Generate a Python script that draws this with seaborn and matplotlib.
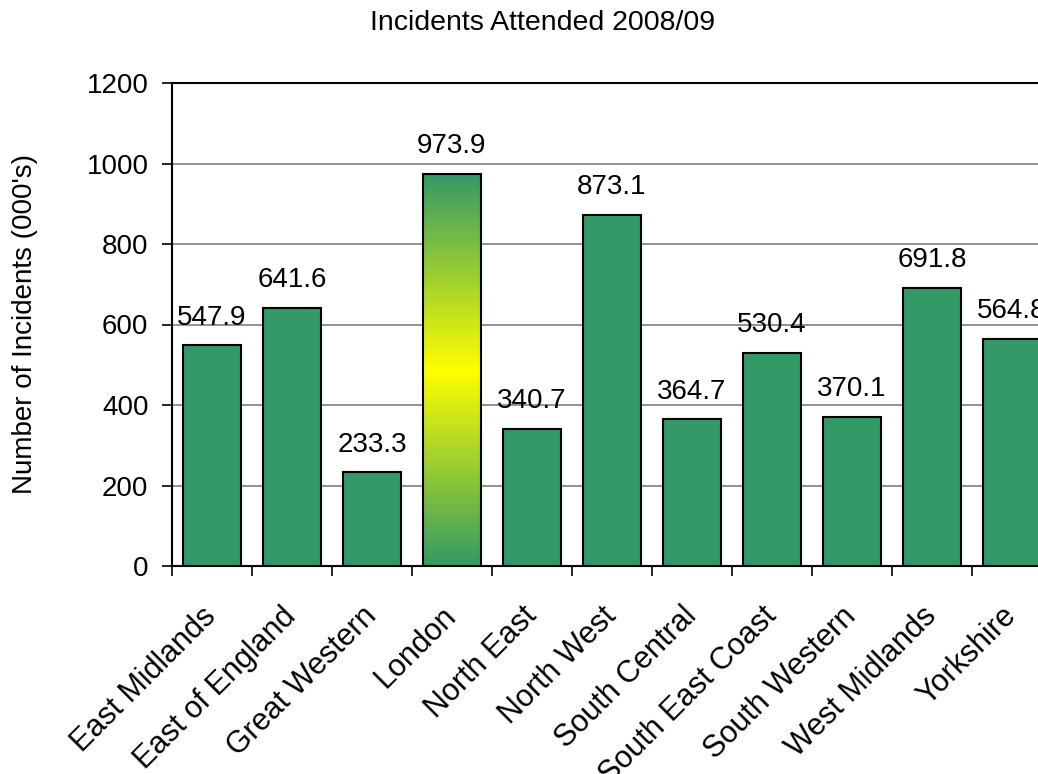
import numpy as np
import seaborn as sns
import matplotlib.pyplot as plt
import matplotlib.transforms as mtransforms
from matplotlib.colors import LinearSegmentedColormap

regions = ["East Midlands", "East of England", "Great Western", "London",
           "North East", "North West", "South Central", "South East Coast",
           "South Western", "West Midlands", "Yorkshire"]
incidents = [547.9, 641.6, 233.3, 973.9, 340.7, 873.1, 364.7, 530.4,
             370.1, 691.8, 564.8]
yticks = [0, 200, 400, 600, 800, 1000, 1200]
highlight = "London"

sns.set_theme(style="white")
plt.rcParams['font.family'] = ['Liberation Sans', 'DejaVu Sans']
plt.rcParams['text.color'] = "black"
plt.rcParams['xtick.color'] = "black"
plt.rcParams['ytick.color'] = "black"
plt.rcParams['axes.labelcolor'] = "black"

fig = plt.figure(figsize=(10.38, 7.74), dpi=100)
# plot area runs past the right edge of the picture, like the original
ax = fig.add_axes([172 / 1038, 208 / 774, 880 / 1038, 483 / 774])

sns.barplot(x=regions, y=incidents, color="#339966", saturation=1,
            edgecolor="black", linewidth=1.5, width=0.725, ax=ax, zorder=3)

# green-yellow-green fill on the highlighted bar
green = "#339966"
cmap = LinearSegmentedColormap.from_list("gy", [green, "#ffff00", green])
bar = ax.patches[regions.index(highlight)]
bar.set_facecolor("none")
x0 = bar.get_x()
grad = np.linspace(0, 1, 256).reshape(-1, 1)
img = ax.imshow(grad, cmap=cmap, aspect="auto", origin="lower",
                extent=[x0, x0 + bar.get_width(), 0, bar.get_height()],
                zorder=2.9)
img.set_clip_path(bar)

ax.bar_label(ax.containers[0], labels=[f"{v:.1f}" for v in incidents],
             padding=10.5, fontsize=20, color="black")

ax.set_xlim(-0.5, len(regions) - 0.5)
ax.set_ylim(0, 1200)
ax.set_yticks(yticks)
ax.yaxis.grid(True, color="#808080", linewidth=1.2)
ax.set_axisbelow(True)

ax.set_xticks(np.arange(len(regions)))
ax.set_xticklabels(regions, rotation=45, ha="right", va="center",
                   rotation_mode="anchor")
shift = mtransforms.ScaledTranslation(-12 / 100, 0, fig.dpi_scale_trans)
for lab in ax.get_xticklabels():
    lab.set_transform(lab.get_transform() + shift)
ax.set_xticks(np.arange(len(regions) + 1) - 0.5, minor=True)
ax.tick_params(axis="x", which="major", length=0, pad=33, labelsize=22)
ax.tick_params(axis="x", which="minor", length=7, width=1.2, color="black",
               direction="out", bottom=True)
ax.tick_params(axis="y", length=7, width=1.2, color="black", direction="out",
               left=True, pad=10, labelsize=20)

for side in ["left", "top", "bottom", "right"]:
    ax.spines[side].set_color("black")
    ax.spines[side].set_linewidth(1.5)

ax.set_xlabel("")
ax.set_ylabel("Number of Incidents (000's)", fontsize=20, labelpad=35)

fig.text(543 / 1038, 1 - 30 / 774, "Incidents Attended 2008/09",
         ha="center", va="baseline", fontsize=20.5)

fig.savefig("out.png", dpi=100)
